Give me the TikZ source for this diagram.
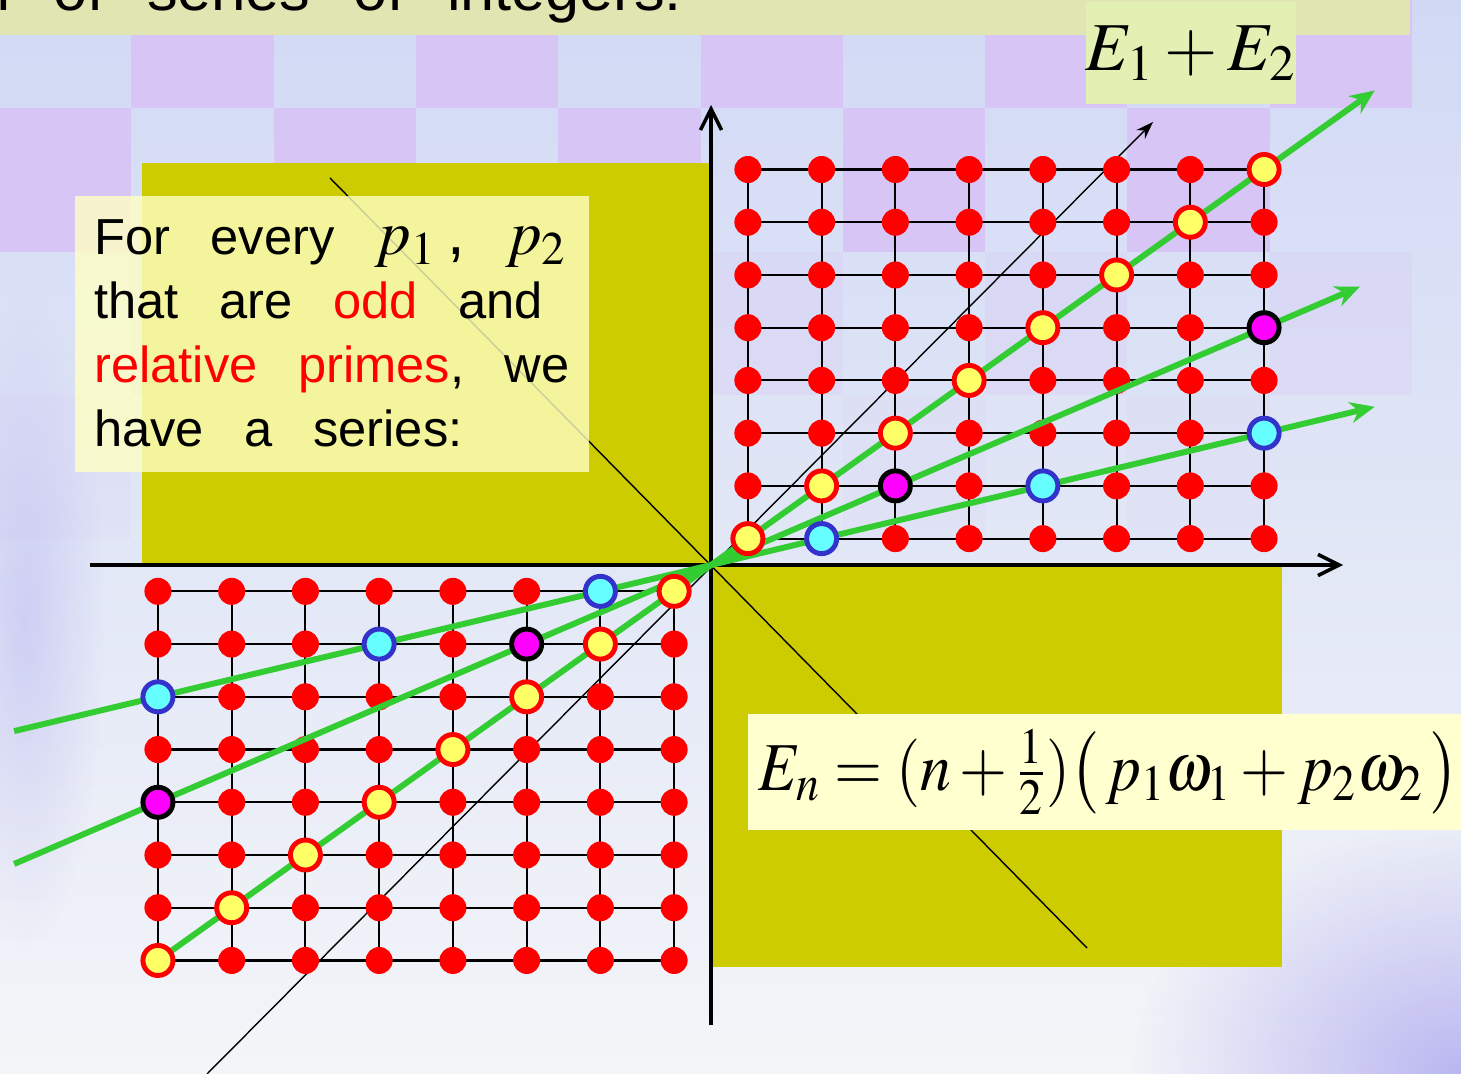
\documentclass[tikz,border=0pt]{standalone}
\usepackage{amsmath}
\usepackage{graphicx}
\usepackage{mathptmx}
\usepackage[no-math]{fontspec}
\setmainfont{Liberation Sans}
\usepackage{tikz}
\usetikzlibrary{arrows.meta,calc,positioning,fadings}

\definecolor{bgblue}{HTML}{D1D9F5}
\definecolor{bglav}{HTML}{D7C5F5}
\definecolor{bgpale}{HTML}{F3F5F8}
\definecolor{bandkhaki}{HTML}{E1E5B1}
\definecolor{boxolive}{HTML}{CCCC00}
\definecolor{noteyellow}{HTML}{FFFFC4}
\definecolor{sumgreen}{HTML}{E3F0B3}
\definecolor{formyellow}{HTML}{FFFFCF}
\definecolor{dotred}{HTML}{FF0000}
\definecolor{dotyellow}{HTML}{FFFF66}
\definecolor{dotcyan}{HTML}{66FFFF}
\definecolor{ringblue}{HTML}{3333CC}
\definecolor{dotmagenta}{HTML}{FF00FF}
\definecolor{raygreen}{HTML}{33CC33}
\definecolor{swirl}{HTML}{B4B0F0}

\tikzfading[name=softblob, inner color=transparent!0, outer color=transparent!100]

% wide word spacing, as on the slide
\newcommand{\wsp}{\spaceskip=0.8em\relax}

\begin{document}
\begin{tikzpicture}[x=0.01cm, y=-0.01cm, >=Stealth,
  dot/.style={circle, fill=dotred, inner sep=0pt, minimum size=0.27cm},
  ring/.style={circle, line width=1.4pt, inner sep=0pt, minimum size=0.30cm},
  yel/.style={ring, draw=dotred, fill=dotyellow},
  cya/.style={ring, draw=ringblue, fill=dotcyan},
  mag/.style={ring, draw=black, fill=dotmagenta},
  gridline/.style={black, line width=0.6pt},
  ray/.style={raygreen, line width=1.7pt},
  axis/.style={line width=1pt, -{Straight Barb[length=6pt,width=6pt]}}]

  \useasboundingbox (0,0) rectangle (1461,1074);
  \clip (0,0) rectangle (1461,1074);

  %-------------------------
  % Background
  %-------------------------
  \shade[top color=bgblue, middle color=bgblue!55!bgpale, bottom color=bgpale]
    (0,0) rectangle (1461,1074);

  % checkerboard, fading downwards
  \foreach \r/\op/\cs in {1/1/1, 2/1/0, 3/0.25/1, 4/0.12/0} {
    \foreach \k in {0,...,4} {
      \fill[bglav, opacity=\op] ({-11+(2*\k+\cs)*142.3},{-35+(\r-1)*143.5})
        rectangle ++(142.3,143.5);
    }
  }

  % soft swirls
  \fill[swirl, path fading=softblob, opacity=0.45] (25,620) ellipse (80 and 330);
  \fill[swirl, path fading=softblob, opacity=0.9] (1461,1074) ellipse (330 and 250);

  % title band (cut by the page)
  \fill[bandkhaki] (0,0) rectangle (1410,35);
  \node[anchor=base west, inner sep=0pt, font=\fontsize{17.4}{20}\selectfont]
    (title) at (-24,11) {\spaceskip=0.7em\relax n of series of integers.};

  %-------------------------
  % Quadrant blocks and axes
  %-------------------------
  \coordinate (O) at (711,565);
  \fill[boxolive] (142,163) rectangle (O);
  \fill[boxolive] (O) rectangle (1282,967);

  % thin diagonals
  \coordinate (dg1) at (207,1074);
  \coordinate (dg2) at (1153,122);
  \draw[thin, -{Stealth[length=5pt,width=3.5pt]}] (dg1) -- (dg2);
  \coordinate (ad1) at (330,178);
  \coordinate (ad2) at (1087,948);
  \draw[thin] (ad1) -- (ad2);

  % Axes
  \coordinate (xl) at (90,565);
  \coordinate (xr) at (1343,565);
  \coordinate (yb) at (711,1025);
  \coordinate (yt) at (711,105);
  \draw[axis] (xl) -- (xr);
  \draw[axis] (yb) -- (yt);

  % Text box
  \node[anchor=north west, fill=noteyellow, fill opacity=0.8, text opacity=1,
        inner sep=0pt, minimum width=5.14cm, minimum height=2.76cm,
        align=left, font=\fontsize{14.4}{18.2}\selectfont] (note) at (74,195)
    {\wsp For every {\fontsize{18}{18}\selectfont$p_1$\,, $p_2$}\\
     \wsp that are \textcolor{dotred}{odd} and\\
     \wsp \textcolor{dotred}{relative primes}, we\\
     \wsp have a series:};

  %-------------------------
  % Lattices of half-integers
  %-------------------------
  \begin{scope}[shift={(O)}, x=0.737cm, y=0.527cm]
    \foreach \i in {1,...,8} {
      \foreach \j in {1,...,8} {
        \coordinate (ur-\i-\j) at (\i-0.5,\j-0.5);
        \coordinate (ll-\i-\j) at (0.5-\i,0.5-\j);
      }
    }
    % ray ends
    \coordinate (ty) at (9,9);
    \coordinate (tm) at (8.8,5.28);
    \coordinate (tc) at (9,3);
    \coordinate (bm) at (-9.45,-5.67);
    \coordinate (bc) at (-9.45,-3.15);
  \end{scope}

  % grid lines
  \foreach \k in {1,...,8} {
    \draw[gridline] (ur-1-\k) -- (ur-8-\k);
    \draw[gridline] (ur-\k-1) -- (ur-\k-8);
    \draw[gridline] (ll-1-\k) -- (ll-8-\k);
    \draw[gridline] (ll-\k-1) -- (ll-\k-8);
  }

  % red dots
  \foreach \i in {1,...,8} {
    \foreach \j in {1,...,8} {
      \node[dot] (dur-\i-\j) at (ur-\i-\j) {};
      \node[dot] (dll-\i-\j) at (ll-\i-\j) {};
    }
  }

  % green rays
  \draw[ray, -{Stealth[length=7pt,width=6pt]}] (O) -- (ty);
  \draw[ray, -{Stealth[length=7pt,width=6pt]}] (O) -- (tm);
  \draw[ray, -{Stealth[length=7pt,width=6pt]}] (O) -- (tc);
  \draw[ray] (O) -- (ll-8-8);
  \draw[ray] (O) -- (bm);
  \draw[ray] (O) -- (bc);

  % marked points
  \foreach \q in {ur,ll} {
    \foreach \k in {1,...,8}
      \node[yel] (y\q-\k) at (\q-\k-\k) {};
    \foreach \i/\j in {2/1, 5/2, 8/3}
      \node[cya] (c\q-\i-\j) at (\q-\i-\j) {};
    \foreach \i/\j in {3/2, 8/5}
      \node[mag] (m\q-\i-\j) at (\q-\i-\j) {};
  }

  %-------------------------
  % Formula boxes
  %-------------------------
  \node[fill=sumgreen, minimum width=2.07cm, minimum height=1.01cm,
        inner sep=0pt, font=\fontsize{19.5}{20}\selectfont]
    (sum) at (1191,53) {$E_1+E_2$};

  \node[anchor=west, fill=formyellow, minimum width=7.3cm,
        minimum height=1.16cm, inner sep=0pt,
        font=\fontsize{19.5}{20}\selectfont] (form) at (747,772) {};
  \node[anchor=west, inner sep=0pt, font=\fontsize{19.5}{20}\selectfont]
    (formtext) at (758,772)
    {\scalebox{0.9}[1]{$E_n = (n+\tfrac{1}{2})\bigl(\,p_1\omega_1 + p_2\omega_2\,\bigr)$}};

\end{tikzpicture}
\end{document}
